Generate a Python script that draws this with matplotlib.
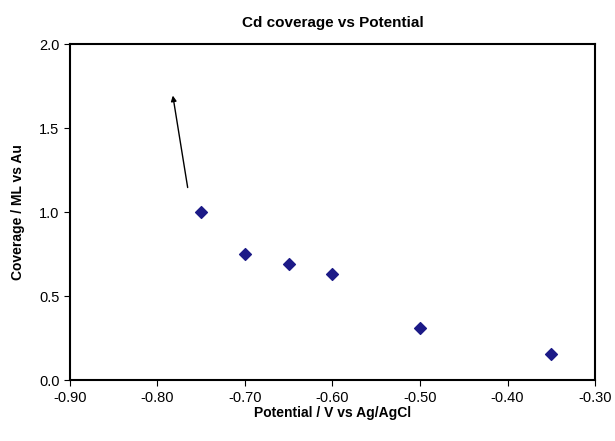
import matplotlib
matplotlib.use("Agg")
import matplotlib.pyplot as plt

plt.rcParams['font.family'] = ['Liberation Sans', 'DejaVu Sans']

potential = [-0.75, -0.70, -0.65, -0.60, -0.50, -0.35]
coverage = [1.00, 0.75, 0.69, 0.63, 0.31, 0.155]
xticks = [-0.90, -0.80, -0.70, -0.60, -0.50, -0.40, -0.30]
yticks = [0.0, 0.5, 1.0, 1.5, 2.0]

fig = plt.figure(figsize=(6.15, 4.41), dpi=100)
ax = fig.add_axes([0.1138, 0.138, 0.8537, 0.762])

ax.scatter(potential, coverage, marker='D', s=36, color='#1c1a87', zorder=3)

# arrow pointing up from the first point
ax.annotate('', xy=(-0.783, 1.71), xytext=(-0.765, 1.13),
            arrowprops=dict(arrowstyle='-|>', color='black', lw=1.0,
                            mutation_scale=8))

ax.set_xlim(-0.90, -0.30)
ax.set_ylim(0.0, 2.0)
ax.set_xticks(xticks)
ax.set_xticklabels([f"{t:.2f}" for t in xticks])
ax.set_yticks(yticks)
ax.set_yticklabels([f"{t:.1f}" for t in yticks])
ax.tick_params(direction='out', length=4, labelsize=10.5)
for s in ax.spines.values():
    s.set_linewidth(1.5)

ax.set_title('Cd coverage vs Potential', fontsize=11, fontweight='bold', pad=12)
ax.set_xlabel('Potential / V vs Ag/AgCl', fontsize=10, fontweight='bold', labelpad=1)
ax.set_ylabel('Coverage / ML vs Au', fontsize=10, fontweight='bold', labelpad=10)

fig.savefig('out.png', dpi=100)
